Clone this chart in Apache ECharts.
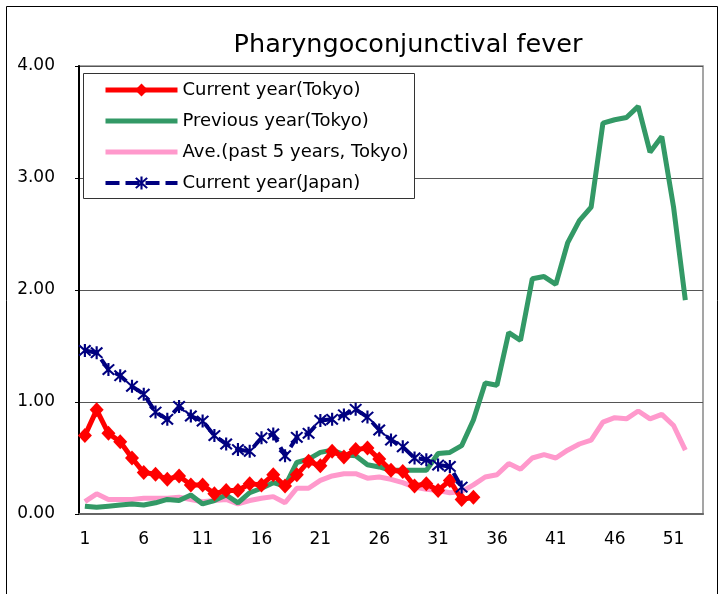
<!DOCTYPE html>
<html>
<head>
<meta charset="utf-8">
<script src="https://cdn.jsdelivr.net/npm/echarts@6/dist/echarts.min.js"></script>
<style>
html,body{margin:0;padding:0;background:#fff;}
#c{width:722px;height:594px;}
</style>
</head>
<body>
<div id="c"></div>
<script>
// ---- data ----
var weeks = [];
for (var i = 1; i <= 53; i++) weeks.push(String(i));

var titleText = 'Pharyngoconjunctival fever';
var seriesNames = ['Current year(Tokyo)', 'Previous year(Tokyo)', 'Ave.(past 5 years, Tokyo)', 'Current year(Japan)'];

var currentTokyo = [0.70, 0.93, 0.72, 0.645, 0.50, 0.37, 0.355, 0.31, 0.34, 0.26,
  0.26, 0.18, 0.21, 0.21, 0.27, 0.26, 0.35, 0.25, 0.35, 0.47,
  0.43, 0.56, 0.51, 0.575, 0.59, 0.49, 0.39, 0.38, 0.25, 0.27,
  0.21, 0.30, 0.13, 0.15];

var previousTokyo = [0.07, 0.06, 0.07, 0.08, 0.09, 0.08, 0.10, 0.13, 0.12, 0.17,
  0.09, 0.12, 0.17, 0.10, 0.19, 0.23, 0.28, 0.25, 0.46, 0.49,
  0.55, 0.57, 0.53, 0.52, 0.44, 0.42, 0.39, 0.39, 0.39, 0.39,
  0.54, 0.55, 0.61, 0.84, 1.17, 1.15, 1.62, 1.55, 2.10, 2.12,
  2.05, 2.42, 2.62, 2.74, 3.49, 3.52, 3.54, 3.64, 3.23, 3.37,
  2.74, 1.91];

var avgTokyo = [0.11, 0.18, 0.13, 0.13, 0.13, 0.14, 0.14, 0.14, 0.15, 0.13,
  0.11, 0.12, 0.13, 0.09, 0.12, 0.14, 0.155, 0.10, 0.23, 0.23,
  0.30, 0.34, 0.36, 0.36, 0.32, 0.33, 0.31, 0.28, 0.24, 0.22,
  0.21, 0.19, 0.20, 0.26, 0.33, 0.35, 0.45, 0.40, 0.50, 0.53,
  0.50, 0.57, 0.625, 0.66, 0.82, 0.86, 0.85, 0.92, 0.85, 0.89,
  0.79, 0.57];

var currentJapan = [1.46, 1.44, 1.29, 1.235, 1.14, 1.07, 0.91, 0.845, 0.96, 0.875,
  0.83, 0.70, 0.625, 0.575, 0.56, 0.68, 0.715, 0.52, 0.685, 0.72,
  0.835, 0.845, 0.885, 0.935, 0.865, 0.75, 0.66, 0.60, 0.50, 0.485,
  0.437, 0.425, 0.24];

var yMin = 0, yMax = 4, yStep = 1;

// ---- chart ----
var FONT = 'DejaVu Sans';
var asterisk = 'path://M8.5,0 L11.5,0 L11.5,20 L8.5,20 Z M3.06,0.94 L19.06,16.94 L16.94,19.06 L0.94,3.06 Z M16.94,0.94 L19.06,3.06 L3.06,19.06 L0.94,16.94 Z';

var chart = echarts.init(document.getElementById('c'), null, {renderer: 'canvas'});
chart.setOption({
  animation: false,
  backgroundColor: '#fff',
  textStyle: {fontFamily: FONT, color: '#000'},
  title: {
    text: titleText,
    left: 403, top: 27, textAlign: 'center',
    textStyle: {fontFamily: FONT, fontSize: 25.5, fontWeight: 'normal', color: '#000'}
  },
  graphic: [
    {type: 'rect', z: -10, silent: true, shape: {x: 6.5, y: 6.5, width: 711, height: 620},
     style: {fill: 'none', stroke: '#000', lineWidth: 1}},
    {type: 'rect', z: 3, silent: true, shape: {x: 83.5, y: 73.5, width: 331, height: 125},
     style: {fill: '#fff', stroke: '#333', lineWidth: 1}}
  ],
  legend: {
    orient: 'vertical', left: 103, top: 81, padding: 0,
    itemWidth: 72, itemHeight: 16, itemGap: 13, z: 5,
    textStyle: {fontFamily: FONT, fontSize: 18, color: '#000', padding: [0, 0, 0, 0]},
    data: [
      {name: seriesNames[0], lineStyle: {width: 5}},
      {name: seriesNames[1], lineStyle: {width: 5}, itemStyle: {opacity: 0}},
      {name: seriesNames[2], lineStyle: {width: 5}, itemStyle: {opacity: 0}},
      {name: seriesNames[3], lineStyle: {width: 4, type: [14, 6]}}
    ]
  },
  grid: {left: 79, right: 19, top: 66, bottom: 80, show: true, borderColor: '#888', borderWidth: 1.5},
  xAxis: {
    type: 'category', data: weeks, boundaryGap: true,
    axisLine: {lineStyle: {color: '#666', width: 2}},
    axisTick: {interval: 4, inside: true, length: 7, lineStyle: {color: '#666', width: 1.5}},
    axisLabel: {interval: 4, margin: 17, fontFamily: FONT, fontSize: 17, color: '#000'},
    splitLine: {show: false}
  },
  yAxis: {
    type: 'value', min: yMin, max: yMax, interval: yStep,
    axisLine: {show: true, lineStyle: {color: '#000', width: 2}},
    axisTick: {show: true, length: 4, lineStyle: {color: '#000'}},
    axisLabel: {margin: 24, fontFamily: FONT, fontSize: 17, color: '#000',
      formatter: function (v) { return v.toFixed(2); }},
    splitLine: {show: true, lineStyle: {color: '#555', width: 1}}
  },
  series: [
    {name: seriesNames[0], type: 'line', data: currentTokyo, z: 4,
     symbol: 'diamond', symbolSize: [14, 15], showAllSymbol: true,
     lineStyle: {color: '#ff0000', width: 5}, itemStyle: {color: '#ff0000'}},
    {name: seriesNames[1], type: 'line', data: previousTokyo, z: 3,
     symbol: 'none', lineStyle: {color: '#339966', width: 5}, itemStyle: {color: '#339966'}},
    {name: seriesNames[2], type: 'line', data: avgTokyo, z: 2,
     symbol: 'none', lineStyle: {color: '#ff99cc', width: 5}, itemStyle: {color: '#ff99cc'}},
    {name: seriesNames[3], type: 'line', data: currentJapan, z: 5,
     symbol: asterisk, symbolSize: 13, showAllSymbol: true,
     lineStyle: {color: '#000080', width: 4, type: [14, 6]}, itemStyle: {color: '#000080'}}
  ]
});
</script>
</body>
</html>
